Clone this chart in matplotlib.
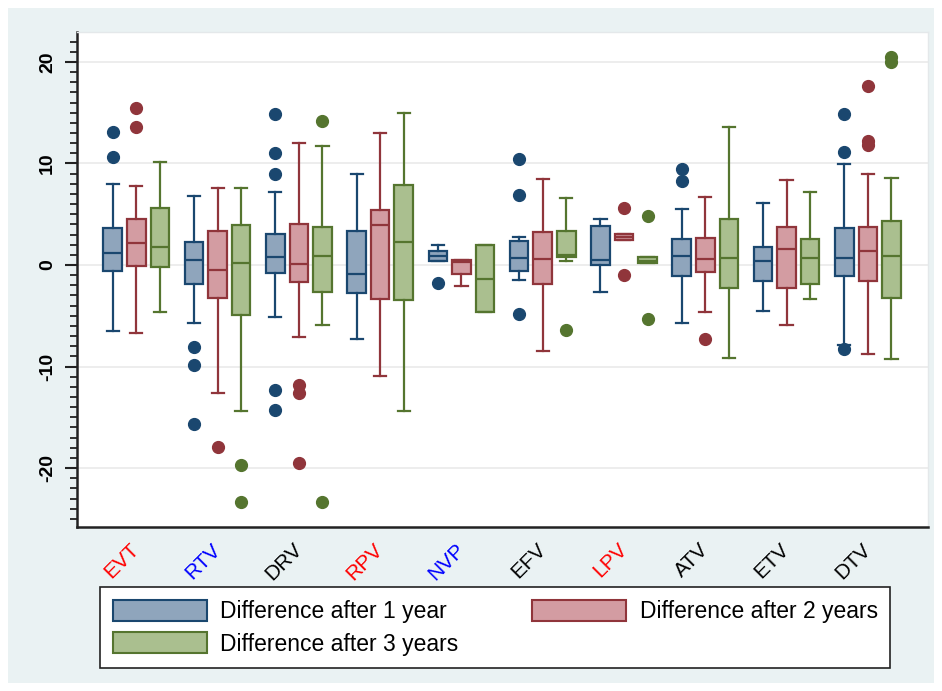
import matplotlib
matplotlib.use("Agg")
import matplotlib.pyplot as plt
from matplotlib.patches import Rectangle, Patch
from matplotlib.ticker import MultipleLocator

plt.rcParams['font.family'] = ['Liberation Sans', 'DejaVu Sans']

categories = ["EVT", "RTV", "DRV", "RPV", "NVP", "EFV", "LPV", "ATV", "ETV", "DTV"]
label_colors = ["#FF0000", "#0000FF", "black", "#FF0000", "#0000FF",
                "black", "#FF0000", "black", "black", "black"]
series_names = ["Difference after 1 year", "Difference after 2 years",
                "Difference after 3 years"]

# Year 1
y1_whishi = [7.95, 6.8, 7.16, 8.97, 1.97, 2.73, 4.57, 5.55, 6.14, 9.95]
y1_q3 = [3.6, 2.27, 3.02, 3.35, 1.41, 2.4, 3.8, 2.56, 1.77, 3.61]
y1_med = [1.15, 0.49, 0.82, -0.92, 0.92, 0.66, 0.49, 0.92, 0.36, 0.69]
y1_q1 = [-0.56, -1.84, -0.82, -2.73, 0.43, -0.56, -0.03, -1.05, -1.54, -1.05]
y1_whislo = [-6.5, -5.68, -5.09, -7.32, 0.43, -1.48, -2.69, -5.68, -4.5, -7.9]
y1_fliers = [[13.07, 10.64], [-8.05, -9.85, -15.7],
             [14.88, 11.07, 8.97, -12.3, -14.3], [], [-1.8],
             [10.47, 6.9, -4.83], [], [9.46, 8.31], [], [14.85, 11.1, -8.24]]

# Year 2
y2_whishi = [7.78, 7.55, 12.05, 12.97, 0.45, 8.47, 3.05, 6.67, 8.37, 8.93]
y2_q3 = [4.57, 3.35, 4.0, 5.39, 0.45, 3.22, 3.05, 2.69, 3.78, 3.78]
y2_med = [2.13, -0.46, 0.1, 3.94, 0.33, 0.56, 2.73, 0.59, 1.54, 1.38]
y2_q1 = [-0.05, -3.28, -1.67, -3.35, -0.89, -1.84, 2.45, -0.66, -2.23, -1.54]
y2_whislo = [-6.67, -12.64, -7.13, -10.94, -2.07, -8.5, 2.45, -4.66, -5.91, -8.73]
y2_fliers = [[15.5, 13.6], [-17.9], [-11.8, -12.58, -19.47], [], [], [],
             [5.65, -1.02], [-7.29], [], [17.67, 12.2, 11.8]]

# Year 3
y3_whishi = [10.18, 7.55, 11.76, 15.0, 1.97, 6.57, 0.82, 13.57, 7.16, 8.57]
y3_q3 = [5.65, 3.91, 3.78, 7.85, 1.97, 3.38, 0.82, 4.5, 2.56, 4.37]
y3_med = [1.74, 0.23, 0.92, 2.27, -1.41, 0.98, 0.35, 0.69, 0.69, 0.92]
y3_q1 = [-0.23, -4.93, -2.63, -3.45, -4.66, 0.82, 0.16, -2.3, -1.84, -3.28]
y3_whislo = [-4.66, -14.35, -5.9, -14.35, -4.66, 0.35, 0.16, -9.13, -3.32, -9.29]
y3_fliers = [[], [-19.7, -23.3], [14.15, -23.3], [], [], [-6.4],
             [4.86, -5.29], [], [], [20.5, 20.0]]

y_ticks = [-20, -10, 0, 10, 20]

series = [
    (y1_whishi, y1_q3, y1_med, y1_q1, y1_whislo, y1_fliers),
    (y2_whishi, y2_q3, y2_med, y2_q1, y2_whislo, y2_fliers),
    (y3_whishi, y3_q3, y3_med, y3_q1, y3_whislo, y3_fliers),
]
edge_colors = ["#1A476F", "#90353B", "#55752F"]
fill_colors = ["#8FA5BC", "#D39CA2", "#AABF8F"]

W, H = 942, 691
fig = plt.figure(figsize=(W / 100, H / 100), dpi=100, facecolor="white")
fig.patches.append(Rectangle((8 / W, 8 / H), 1 - 16 / W, 1 - 16 / H,
                             transform=fig.transFigure, facecolor="#EAF2F3",
                             edgecolor="none", zorder=-10))

ax = fig.add_axes([77 / W, 1 - 527 / H, (928 - 77) / W, (527 - 32) / H])
ax.set_zorder(1)
ax.set_facecolor("white")

offsets = [-0.29, 0.0, 0.29]
width = 0.228
for s, (whi, q3, med, q1, wlo, fl) in enumerate(series):
    stats = []
    for i in range(len(categories)):
        stats.append(dict(med=med[i], q1=q1[i], q3=q3[i], whislo=wlo[i],
                          whishi=whi[i], fliers=fl[i]))
    pos = [i + 1 + offsets[s] for i in range(len(categories))]
    ec = edge_colors[s]
    ax.bxp(stats, positions=pos, widths=width, patch_artist=True,
           showfliers=True, capwidths=0.15, manage_ticks=False,
           boxprops=dict(facecolor=fill_colors[s], edgecolor=ec, linewidth=1.6),
           medianprops=dict(color=ec, linewidth=1.6),
           whiskerprops=dict(color=ec, linewidth=1.6),
           capprops=dict(color=ec, linewidth=1.6),
           flierprops=dict(marker='o', markerfacecolor=ec, markeredgecolor=ec,
                           markersize=8.5, linestyle='none'))

ax.set_xlim(0.27, 10.74)
ax.set_ylim(-25.8, 22.95)
ax.set_yticks(y_ticks)
ax.set_yticklabels([str(t) for t in y_ticks], rotation=90, va='center',
                   fontsize=14, fontweight='bold')
ax.yaxis.set_minor_locator(MultipleLocator(1))
ax.tick_params(axis='y', which='major', length=9, width=1.5, pad=6, color="#222222")
ax.tick_params(axis='y', which='minor', length=5, width=1.3, color="#222222")
ax.grid(axis='y', which='major', color="#EAEAEA", linewidth=1.2)
ax.set_axisbelow(True)

ax.set_xticks(range(1, len(categories) + 1))
ax.set_xticklabels(categories, rotation=45, ha='right', va='center',
                   rotation_mode='anchor', fontsize=15)
for lbl, c in zip(ax.get_xticklabels(), label_colors):
    lbl.set_color(c)
ax.tick_params(axis='x', length=0, pad=14)

for side in ['left', 'bottom']:
    ax.spines[side].set_color("#222222")
    ax.spines[side].set_linewidth(1.8)
for side in ['top', 'right']:
    ax.spines[side].set_color("#E4E8EA")
    ax.spines[side].set_linewidth(1.0)

handles = [Patch(facecolor=fill_colors[k], edgecolor=edge_colors[k], linewidth=1.5)
           for k in range(3)]
order = [0, 2, 1]
leg = fig.legend([handles[k] for k in order], [series_names[k] for k in order],
                 ncol=2, loc='upper left',
                 bbox_to_anchor=(100 / W, 1 - 587 / H),
                 bbox_transform=fig.transFigure,
                 fontsize=16.5, frameon=True, fancybox=False, framealpha=1.0,
                 handlelength=4.1, handleheight=1.05, handletextpad=0.6,
                 labelspacing=0.4, borderpad=0.55, borderaxespad=0.0,
                 columnspacing=3.2)
leg.get_frame().set_edgecolor("#222222")
leg.get_frame().set_linewidth(1.2)
leg.get_frame().set_facecolor("white")

fig.savefig("out.png", dpi=100, facecolor=fig.get_facecolor())
